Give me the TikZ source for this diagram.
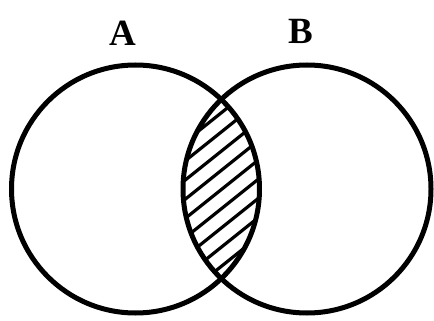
\documentclass[tikz,border=0pt]{standalone}
\usepackage{fontspec}
\setmainfont{Liberation Serif}
\usetikzlibrary{calc}
\begin{document}
\begin{tikzpicture}[x=1pt,y=-1pt,
  ring/.style={line width=5pt},
  hatchline/.style={line width=3.2pt},
  lbl/.style={font=\fontsize{37}{37}\selectfont\bfseries, inner sep=0pt}]
\useasboundingbox (0,0) rectangle (434,321);
\coordinate (ca) at (135.5,189);
\coordinate (cb) at (307,189);
\begin{scope}
  \clip (ca) circle (124);
  \clip (cb) circle (124);
  \foreach \k in {-12,...,12}{
    \draw[hatchline] ($(222,189)+(\k*24,0)+(-150,120)$) -- ($(222,189)+(\k*24,0)+(150,-120)$);
  }
\end{scope}
\draw[ring] (ca) circle (124);
\draw[ring] (cb) circle (124);
\node[lbl] (A) at (123,33) {A};
\node[lbl] (B) at (301,31) {B};
\end{tikzpicture}
\end{document}
